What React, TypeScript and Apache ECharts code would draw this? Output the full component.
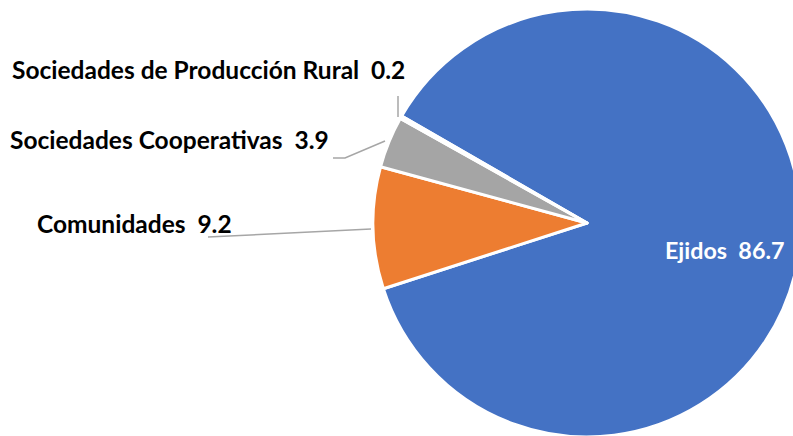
import React, { useEffect, useRef } from "react";
import * as echarts from "echarts";

const categories = ["Ejidos", "Comunidades", "Sociedades Cooperativas", "Sociedades de Producción Rural"];
const values = [86.7, 9.2, 3.9, 0.2];
const colors = ["#4472C4", "#ED7D31", "#A5A5A5", "#FFC000"];

// label layout: [x, y, align, line points]
const labelPos: any[] = [
  { x: 665, y: 250, align: "left", line: null },
  { x: 37, y: 223, align: "left", line: [[371, 229], [208, 237], [208, 237]] },
  { x: 10, y: 139, align: "left", line: [[385, 141], [345, 158], [333, 158]] },
  { x: 12, y: 69, align: "left", line: [[398, 117], [398, 96], [398, 96]] },
];

export default function App() {
  const ref = useRef<HTMLDivElement>(null);
  useEffect(() => {
    document.body.style.margin = "0";
    const chart = echarts.init(ref.current!, null, { renderer: "svg" });
    chart.setOption({
      animation: false,
      backgroundColor: "#ffffff",
      series: [
        {
          type: "pie",
          center: [587, 223],
          radius: 214,
          startAngle: 150,
          clockwise: true,
          avoidLabelOverlap: false,
          itemStyle: { borderColor: "#ffffff", borderWidth: 3 },
          label: {
            show: true,
            formatter: "{b}  {c}",
            fontFamily: "Lato",
            fontWeight: "bold",
            fontSize: 24.5,
            color: "#000000",
          },
          labelLine: { show: true, lineStyle: { color: "#A6A6A6", width: 1.5 } },
          labelLayout: (params: any) => {
            const p = labelPos[params.dataIndex];
            const out: any = { x: p.x, y: p.y, align: p.align, verticalAlign: "middle" };
            if (p.line) out.labelLinePoints = p.line;
            return out;
          },
          data: categories.map((c, i) => ({
            name: c,
            value: values[i],
            itemStyle: { color: colors[i] },
            label: i === 0 ? { color: "#ffffff", fontSize: 23.3 } : undefined,
            labelLine: i === 0 ? { show: false } : undefined,
          })),
        },
      ],
    });
    return () => chart.dispose();
  }, []);
  return <div ref={ref} style={{ width: 793, height: 436 }} />;
}
